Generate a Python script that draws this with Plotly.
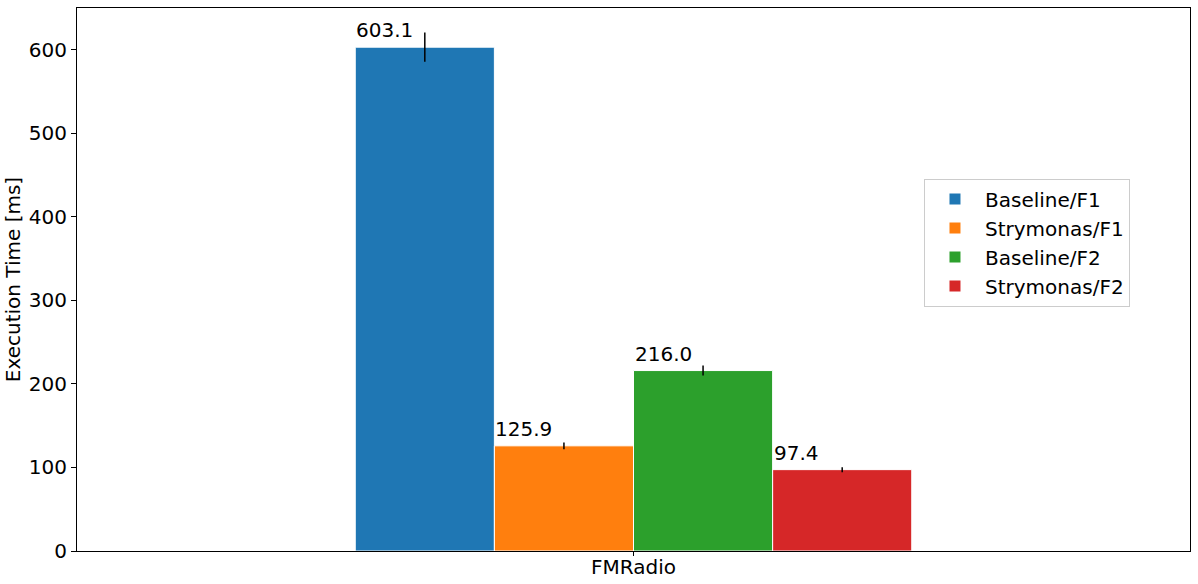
import plotly.graph_objects as go

categories = ["FMRadio"]
series_names = ["Baseline/F1", "Strymonas/F1", "Baseline/F2", "Strymonas/F2"]
values = [603.1, 125.9, 216.0, 97.4]
errors = [17.5, 4.0, 6.0, 3.0]
colors = ["#1f77b4", "#ff7f0e", "#2ca02c", "#d62728"]

FONT = "DejaVu Sans"
FS = 20
fig = go.Figure()
n = len(series_names)
group_w = 0.8
bw = group_w / n
for i, (name, v, e, c) in enumerate(zip(series_names, values, errors, colors)):
    fig.add_trace(go.Bar(
        x=[0], y=[v], name=name,
        marker=dict(color=c, line=dict(color="white", width=1)),
        error_y=dict(type="data", array=[e], color="black", thickness=1.5, width=0),
    ))
    left = -group_w / 2 + i * bw
    fig.add_annotation(x=left, y=v, xref="x", yref="y", text=f"{v:.1f}",
                       showarrow=False, xanchor="left", yanchor="bottom",
                       xshift=-1, yshift=3, font=dict(family=FONT, size=FS, color="black"))

fig.update_layout(
    width=1198, height=584,
    margin=dict(l=77, r=8, t=8, b=33, autoexpand=False),
    barmode="group", bargap=0.2, bargroupgap=0,
    plot_bgcolor="white", paper_bgcolor="white",
    font=dict(family=FONT, size=FS, color="black"),
    legend=dict(x=0.761, y=0.686, xanchor="left", yanchor="top",
                bordercolor="#cccccc", borderwidth=1, bgcolor="white",
                font=dict(family=FONT, size=FS), tracegroupgap=0,
                itemwidth=50),
    showlegend=True,
)
fig.update_xaxes(range=[-0.8, 0.8], tickvals=[0], ticktext=categories,
                 showline=True, linecolor="black", linewidth=1, mirror=True,
                 ticks="outside", ticklen=4, tickcolor="black", showgrid=False,
                 zeroline=False, automargin=False, ticklabelstandoff=-6)
fig.update_yaxes(range=[0, 650], tickvals=[0, 100, 200, 300, 400, 500, 600],
                 showline=True, linecolor="black", linewidth=1, mirror=True,
                 ticks="outside", ticklen=5, tickcolor="black", showgrid=False,
                 zeroline=False, automargin=False,
                 title=dict(text="Execution Time [ms]", font=dict(family=FONT, size=FS), standoff=2))

fig.write_html("out.html", config={"displayModeBar": False},
               post_script="document.body.style.margin='0';document.body.style.overflow='hidden';")
